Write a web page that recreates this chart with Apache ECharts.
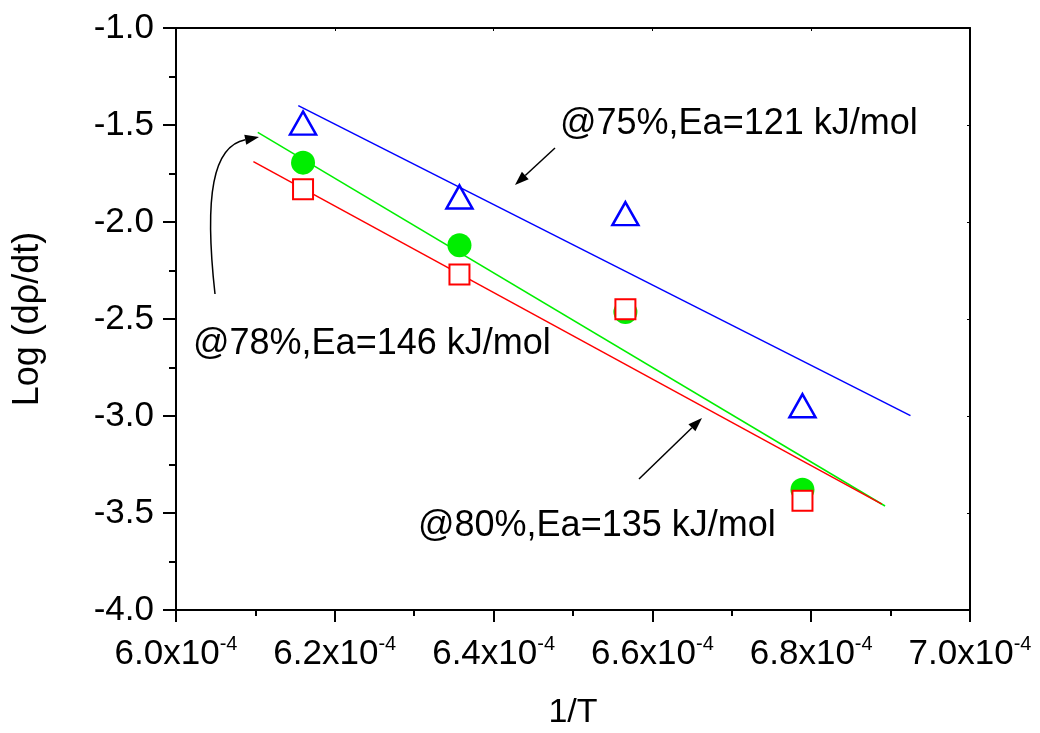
<!DOCTYPE html>
<html>
<head>
<meta charset="utf-8">
<script src="https://cdn.jsdelivr.net/npm/echarts@6/dist/echarts.min.js"></script>
<style>
  html, body { margin: 0; padding: 0; background: #fff; }
  #chart { width: 1040px; height: 733px; }
</style>
</head>
<body>
<div id="chart"></div>
<script>
// measured points, x = 1/T, y = log(drho/dt)
const xPts = [6.160e-4, 6.357e-4, 6.566e-4, 6.789e-4]
const y75 = [-1.490, -1.871, -1.957, -2.947]
const y78 = [-1.694, -2.120, -2.464, -3.380]
const y80 = [-1.831, -2.271, -2.450, -3.437]

// fitted lines (end points)
const fit75 = [[6.154e-4, -1.400], [6.925e-4, -2.998]]
const fit78 = [[6.103e-4, -1.538], [6.893e-4, -3.464]]
const fit80 = [[6.0975e-4, -1.689], [6.889e-4, -3.454]]

const notes = ['@75%,Ea=121 kJ/mol', '@78%,Ea=146 kJ/mol', '@80%,Ea=135 kJ/mol']

const FONT = '"Liberation Sans", Arial, sans-serif'

function pairs(ys) {
  return xPts.map((x, i) => [x, ys[i]])
}

// straight arrow with filled head at (x2, y2)
function arrow(x1, y1, x2, y2) {
  const a = Math.atan2(y2 - y1, x2 - x1)
  const len = 14, w = 5
  const bx = x2 - len * Math.cos(a), by = y2 - len * Math.sin(a)
  const px = -Math.sin(a) * w, py = Math.cos(a) * w
  return [
    { type: 'line', shape: { x1: x1, y1: y1, x2: bx, y2: by }, style: { stroke: '#000', lineWidth: 1.5 } },
    { type: 'polygon', shape: { points: [[x2, y2], [bx + px, by + py], [bx - px, by - py]] }, style: { fill: '#000' } }
  ]
}

function curvedArrow() {
  const tipX = 259, tipY = 137
  const a = Math.atan2(-2, 10)
  const len = 14, w = 5
  const bx = tipX - len * Math.cos(a), by = tipY - len * Math.sin(a)
  const px = -Math.sin(a) * w, py = Math.cos(a) * w
  return [
    {
      type: 'bezierCurve',
      shape: { x1: 215, y1: 294, x2: bx, y2: by, cpx1: 204, cpy1: 195, cpx2: 213, cpy2: 146 },
      style: { stroke: '#000', lineWidth: 1.5, fill: null }
    },
    { type: 'polygon', shape: { points: [[tipX, tipY], [bx + px, by + py], [bx - px, by - py]] }, style: { fill: '#000' } }
  ]
}

function noteText(txt, x, y) {
  return {
    type: 'text', left: x, top: y,
    style: { text: txt, font: '36px ' + FONT, fill: '#000' }
  }
}

const chart = echarts.init(document.getElementById('chart'))

const fitLine = (data, color) => ({
  type: 'line', data: data, symbol: 'none', silent: true,
  lineStyle: { color: color, width: 1.5 }, z: 2
})

const option = {
  animation: false,
  backgroundColor: '#fff',
  grid: { left: 176, right: 70, top: 28, bottom: 123, containLabel: false, outerBoundsMode: 'none' },
  xAxis: [{
    type: 'value', min: 6.0e-4, max: 7.0e-4, interval: 0.2e-4,
    name: '1/T', nameLocation: 'middle', nameGap: 86,
    nameTextStyle: { fontFamily: FONT, fontSize: 34, color: '#000' },
    axisLine: { onZero: false, lineStyle: { color: '#000', width: 2 } },
    axisTick: { show: true, inside: false, length: 12, lineStyle: { color: '#000', width: 2 } },
    minorTick: { show: true, splitNumber: 2, length: 6, lineStyle: { color: '#000', width: 2 } },
    splitLine: { show: false },
    axisLabel: {
      margin: 24, fontFamily: FONT, fontSize: 35, color: '#000',
      formatter: v => '{a|' + (v * 1e4).toFixed(1) + 'x10}{s|-4}',
      rich: {
        a: { fontFamily: FONT, fontSize: 35, color: '#000', lineHeight: 40 },
        s: { fontFamily: FONT, fontSize: 20, color: '#000', verticalAlign: 'top', lineHeight: 40, padding: [0, 0, 22, 0] }
      }
    }
  }, {
    type: 'value', position: 'top', min: 6.0e-4, max: 7.0e-4, interval: 0.2e-4,
    axisLine: { onZero: false, lineStyle: { color: '#000', width: 2 } },
    axisTick: { show: true, inside: true, length: 3, lineStyle: { color: '#000', width: 1 } },
    axisLabel: { show: false }, splitLine: { show: false }
  }],
  yAxis: [{
    type: 'value', min: -4.0, max: -1.0, interval: 0.5,
    name: 'Log (d\u03c1/dt)', nameLocation: 'middle', nameGap: 130,
    nameTextStyle: { fontFamily: FONT, fontSize: 36, color: '#000' },
    axisLine: { onZero: false, lineStyle: { color: '#000', width: 2 } },
    axisTick: { show: true, inside: false, length: 13, lineStyle: { color: '#000', width: 2 } },
    minorTick: { show: true, splitNumber: 2, length: 7, lineStyle: { color: '#000', width: 2 } },
    splitLine: { show: false },
    axisLabel: {
      margin: 22, fontFamily: FONT, fontSize: 35, color: '#000',
      formatter: v => v.toFixed(1)
    }
  }, {
    type: 'value', position: 'right', min: -4.0, max: -1.0, interval: 0.5,
    axisLine: { onZero: false, lineStyle: { color: '#000', width: 2 } },
    axisTick: { show: true, inside: true, length: 3, lineStyle: { color: '#000', width: 1 } },
    axisLabel: { show: false }, splitLine: { show: false }
  }],
  series: [
    fitLine(fit75, '#0000ff'),
    fitLine(fit78, '#00ee00'),
    fitLine(fit80, '#ff0000'),
    {
      type: 'scatter', data: pairs(y78), symbol: 'circle', symbolSize: 24,
      itemStyle: { color: '#00ee00', opacity: 1 }, z: 3
    },
    {
      type: 'scatter', data: pairs(y80), symbol: 'rect', symbolSize: 20,
      itemStyle: { color: '#fff', borderColor: '#ff0000', borderWidth: 2, opacity: 1 }, z: 4
    },
    {
      type: 'scatter', data: pairs(y75), symbol: 'triangle', symbolSize: [26, 23],
      itemStyle: { color: 'rgba(255,255,255,0)', borderColor: '#0000ff', borderWidth: 2.5, opacity: 1 }, z: 4
    }
  ],
  graphic: [
    noteText(notes[0], 560, 106),
    noteText(notes[1], 193, 326),
    noteText(notes[2], 418, 508)
  ]
    .concat(arrow(555, 148, 515, 185))
    .concat(arrow(639, 479, 702, 418))
    .concat(curvedArrow())
}

chart.setOption(option)
</script>
</body>
</html>
